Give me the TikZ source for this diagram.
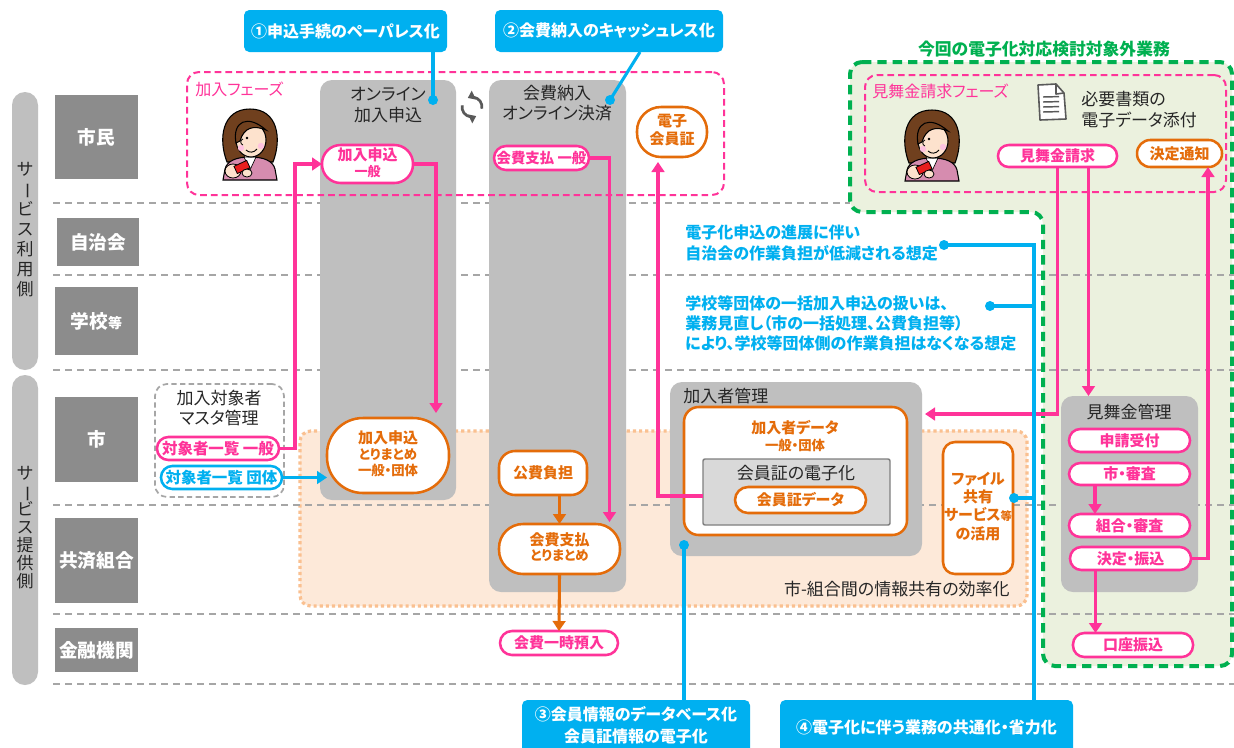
\documentclass[tikz,border=0pt]{standalone}
\usepackage{fontspec}
\setmainfont{Noto Sans CJK JP}[RawFeature=+palt]
\usepackage{graphicx}
\usetikzlibrary{arrows.meta,calc}

\definecolor{pinkc}{RGB}{255,51,153}
\definecolor{orangec}{RGB}{228,108,10}
\definecolor{bluec}{RGB}{0,176,240}
\definecolor{greenc}{RGB}{0,176,80}
\definecolor{greenbg}{RGB}{235,241,222}
\definecolor{peachbg}{RGB}{253,233,217}
\definecolor{peachln}{RGB}{250,192,144}
\definecolor{colgray}{RGB}{191,191,191}
\definecolor{labgray}{RGB}{140,140,140}
\definecolor{lngray}{RGB}{166,166,166}
\definecolor{inngray}{RGB}{217,217,217}
\definecolor{innline}{RGB}{127,127,127}
\definecolor{txtgray}{RGB}{38,38,38}
\definecolor{hairc}{RGB}{112,64,30}
\definecolor{skinc}{RGB}{253,226,205}
\definecolor{shirtc}{RGB}{214,140,175}
\definecolor{phonec}{RGB}{232,30,30}
\definecolor{iconc}{RGB}{89,89,89}

\newcommand\setfs[2]{\fontsize{#1}{#2}\selectfont}
\newcommand\tatebou{\rotatebox[origin=c]{-90}{ー}}
% one line of text, lowered so that the glyphs sit on the node centre
\newcommand\lift[1]{\raisebox{-0.19em}{#1}}
% centred and left-aligned stacks of lines
\newcommand\cstack[1]{\raisebox{-0.12em}{\begin{tabular}{@{}c@{}}#1\end{tabular}}}
\newcommand\lstack[1]{\raisebox{-0.12em}{\begin{tabular}{@{}l@{}}#1\end{tabular}}}

\tikzset{
  % a node spanning the pixel box (x1,y1)-(x2,y2)
  spanbox/.style n args={4}{at={({(#1+#3)/2},{(#2+#4)/2})},
    minimum width={(#3-#1)*0.75pt}, minimum height={(#4-#2)*0.75pt}},
  bx/.style={inner sep=0pt, outer sep=0pt},
  lanebox/.style={bx, fill=labgray, text=white, font=\setfs{14pt}{17pt}\bfseries},
  sidebar/.style={bx, fill=colgray, rounded corners=9.75pt, text=txtgray},
  column/.style={bx, fill=colgray, rounded corners=9pt},
  phase/.style={bx, draw=pinkc, line width=1.5pt, dash pattern=on 5pt off 3pt, rounded corners=9pt},
  pinkpill/.style={bx, draw=pinkc, line width=1.9pt, fill=white, text=pinkc,
    font=\setfs{11.25pt}{12.5pt}\bfseries, rounded corners=#1},
  pinkpill/.default=8.5pt,
  orangepill/.style={bx, draw=orangec, line width=1.9pt, fill=white, text=orangec,
    font=\setfs{11.25pt}{12.5pt}\bfseries, rounded corners=#1},
  orangepill/.default=8.5pt,
  bluepill/.style={bx, draw=bluec, line width=1.9pt, fill=white, text=bluec,
    font=\setfs{11.25pt}{12.5pt}\bfseries, rounded corners=#1},
  bluepill/.default=8.5pt,
  callout/.style={bx, fill=bluec, rounded corners=4pt, text=white,
    font=\setfs{12pt}{16.5pt}\bfseries},
  txt/.style={inner sep=0pt, text=txtgray, font=\setfs{12.75pt}{15pt}},
  bluenote/.style={inner sep=0pt, text=bluec, font=\setfs{12pt}{15pt}\bfseries},
  laneline/.style={draw=lngray, line width=1.1pt, dash pattern=on 5.5pt off 3.5pt},
  tipshape/.style={-{Triangle[length=7.5pt,width=9.5pt]}},
  pinkarrow/.style={draw=pinkc, line width=2.3pt, tipshape},
  orangearrow/.style={draw=orangec, line width=2.3pt, tipshape},
  bluearrow/.style={draw=bluec, line width=2.3pt, tipshape},
  blueline/.style={draw=bluec, line width=2.3pt},
  woman/.pic={
    % long hair behind the head
    \filldraw[fill=hairc, draw=black, line width=0.8pt]
      (-23,17) .. controls (-32,-6) and (-28,-36) .. (0,-36)
      .. controls (28,-36) and (32,-6) .. (23,17) -- cycle;
    % top
    \filldraw[fill=shirtc, draw=black, line width=0.8pt]
      (-27,35) -- (-25,24) .. controls (-23,16) and (-14,12) .. (0,12)
      .. controls (14,12) and (23,16) .. (25,24) -- (27,35) -- cycle;
    \filldraw[fill=white, draw=black, line width=0.5pt] (-6,12) -- (0,25) -- (6,12) -- cycle;
    \fill[skinc] (-5,4) rectangle (5,12);
    % face
    \filldraw[fill=skinc, draw=black, line width=0.8pt] (1,-5) ellipse [x radius=15, y radius=17];
    % fringe
    \filldraw[fill=hairc, draw=black, line width=0.8pt]
      (-14,-2) .. controls (-18,-24) and (-2,-31) .. (16,-15)
      .. controls (4,-20) and (-6,-18) .. (-10,-4) -- cycle;
    % cheeks, eye, nose and smile
    \fill[pinkc!30] (-9,3) circle[radius=3.2];
    \fill[pinkc!30] (11,1) circle[radius=3.2];
    \fill (-3,-7) circle[radius=1.3];
    \draw[line width=0.6pt] (-7,-6) .. controls (-10,-5) and (-10,-1) .. (-7,0);
    \draw[line width=0.7pt] (-4,5) .. controls (-1,8) and (4,8) .. (7,4);
    % hands holding a phone
    \filldraw[fill=skinc, draw=black, line width=0.6pt] (-17,26) ellipse[x radius=8, y radius=7];
    \filldraw[fill=phonec, draw=black, line width=0.6pt, rotate around={25:(-8,22)}] (-15,18) rectangle (-1,26);
    \filldraw[fill=skinc, draw=black, line width=0.6pt] (-3,28) ellipse[x radius=5, y radius=4];
  },
  syncicon/.pic={
    \draw[iconc, line width=2pt, -{Triangle[length=5pt,width=7pt]}]
      (10:10) arc[start angle=10, end angle=-115, radius=10];
    \draw[iconc, line width=2pt, -{Triangle[length=5pt,width=7pt]}]
      (190:10) arc[start angle=190, end angle=65, radius=10];
  },
}

\begin{document}
\begin{tikzpicture}[x=0.75pt,y=-0.75pt]
\useasboundingbox (0,0) rectangle (1234,747);
\clip (0,0) rectangle (1234,747);
\fill[white] (0,0) rectangle (1234,747);

% area outside the scope of this study (background)
\fill[greenbg, rounded corners=9pt] (850,62) -- (1232,62) -- (1232,666) -- (1043,666)
  -- (1043,212) -- (850,212) -- cycle;

% shared-information zone between city and mutual association
\node[bx, fill=peachbg, draw=peachln, line width=2.4pt, dash pattern=on 2.4pt off 2.2pt,
  rounded corners=8pt, spanbox={300}{431}{1027}{606}] (sharezone) {};

% lane separators
\draw[laneline] (53,203) -- (850,203);
\foreach \ly in {275,370,505,614,684} \draw[laneline] (53,\ly) -- (1234,\ly);

% side bars
\node[sidebar, font=\setfs{12.75pt}{15pt}, spanbox={12}{92}{38}{370}] (userside)
  {\raisebox{-2pt}{\begin{tabular}{@{}c@{}}\smash{サ}\\\smash{\tatebou}\\\smash{ビ}\\\smash{ス}\\\smash{利}\\\smash{用}\\\smash{側}\end{tabular}}};
\node[sidebar, font=\setfs{12.75pt}{13.5pt}, spanbox={12}{375}{38}{685}] (providerside)
  {\raisebox{-2pt}{\begin{tabular}{@{}c@{}}\smash{サ}\\\smash{\tatebou}\\\smash{ビ}\\\smash{ス}\\\smash{提}\\\smash{供}\\\smash{側}\end{tabular}}};

% lane headers
\node[lanebox, spanbox={55}{95}{138}{179}] (lcitizen) {\lift{市民}};
\node[lanebox, spanbox={57}{218}{139}{266}] (lassoc) {\lift{自治会}};
\node[lanebox, spanbox={55}{287}{138}{355}] (lschool) {\lift{学校{\setfs{10.5pt}{12pt}等}}};
\node[lanebox, spanbox={55}{397}{138}{482}] (lcity) {\lift{市}};
\node[lanebox, spanbox={55}{518}{138}{603}] (lmutual) {\lift{共済組合}};
\node[lanebox, spanbox={55}{628}{138}{672}] (lbank) {\lift{金融機関}};

% process columns
\node[column, spanbox={320}{80}{456}{500}] (colapply) {};
\node[column, spanbox={489}{80}{626}{592}] (colpay) {};
\node[txt] (colapplyt) at (388,107) {\cstack{オンライン\\加入申込}};
\node[txt] (colpayt) at (557,105) {\cstack{会費納入\\オンライン決済}};

% master data of eligible members
\node[bx, draw=lngray, fill=white, line width=1.3pt, dash pattern=on 4pt off 2.5pt,
  rounded corners=9pt, spanbox={155}{384}{284}{497}] (master) {};
\node[txt] (mastert) at (219,410) {\cstack{加入対象者\\マスタ管理}};

% member management
\node[column, spanbox={670}{382}{922}{556}] (members) {};
\node[txt, anchor=west] (memberst) at (683,396) {\lift{加入者管理}};
\node[bx, draw=orangec, fill=white, line width=1.9pt, rounded corners=11pt,
  spanbox={684}{407}{907}{535}] (memberdata) {};
\node[txt, text=orangec, font=\setfs{11.25pt}{13pt}\bfseries] (memberdatat) at (795,438)
  {\cstack{加入者データ\\{\setfs{10pt}{12pt}一般・団体}}};
\node[bx, fill=inngray, draw=innline, line width=1.1pt, rounded corners=1.5pt,
  spanbox={703}{459}{890}{525}] (cardbox) {};
\node[txt] (cardboxt) at (796,473) {\lift{会員証の電子化}};
\node[orangepill=9.75pt, spanbox={735}{487}{866}{513}] (carddata) {\lift{会員証データ}};

% file sharing service
\node[orangepill=9pt, font=\setfs{11.25pt}{13.5pt}\bfseries, spanbox={943}{442}{1013}{574}] (fileshare)
  {\cstack{ファイル\\共有\\サービス{\setfs{8.5pt}{10pt}等}\\の活用}};
\node[txt, anchor=east] (sharet) at (1010,589) {\lift{市-組合間の情報共有の効率化}};

% relief payment management
\node[column, spanbox={1061}{396}{1198}{592}] (relief) {};
\node[txt] (relieft) at (1129,412) {\lift{見舞金管理}};

% phase frames and out-of-scope frame
\node[phase, spanbox={187}{72}{724}{195}] (joinphase) {};
\node[anchor=west, inner sep=0pt, text=pinkc, font=\setfs{12pt}{14pt}] (joinphaset) at (195,89) {\lift{加入フェーズ}};
\node[phase, spanbox={865}{75}{1226}{192}] (claimphase) {};
\node[anchor=west, inner sep=0pt, text=pinkc, font=\setfs{12pt}{14pt}] (claimphaset) at (872,91) {\lift{見舞金請求フェーズ}};
\draw[greenc, line width=3pt, dash pattern=on 7pt off 4.5pt, rounded corners=9pt]
  (850,62) -- (1232,62) -- (1232,666) -- (1043,666) -- (1043,212) -- (850,212) -- cycle;
\node[inner sep=0pt, text=greenc, font=\setfs{12.6pt}{14pt}\bfseries] (outscope) at (1044,49)
  {\lift{今回の電子化対応検討対象外業務}};
\node[txt, anchor=west] (attach) at (1081,112) {\lstack{必要書類の\\電子データ添付}};

% pills
\node[pinkpill=14pt, font=\setfs{11.25pt}{12pt}\bfseries, spanbox={322}{145}{413}{183}] (applygen)
  {\cstack{加入申込\\{\setfs{9.75pt}{11pt}一般}}};
\node[pinkpill=9pt, font=\setfs{10.8pt}{12pt}\bfseries, spanbox={494}{146}{589}{170}] (paygen) {\lift{会費支払 一般}};
\node[orangepill=18pt, font=\setfs{11.25pt}{12.5pt}\bfseries, spanbox={637}{107}{707}{157}] (ecard)
  {\cstack{電子\\会員証}};
\node[pinkpill, font=\setfs{11.6pt}{12.5pt}\bfseries, spanbox={157}{437}{279}{460}] (listgen) {\lift{対象者一覧 一般}};
\node[bluepill, font=\setfs{11.6pt}{12.5pt}\bfseries, spanbox={161}{466}{282}{489}] (listgrp) {\lift{対象者一覧 団体}};
\node[orangepill=27pt, font=\setfs{11.25pt}{11.5pt}\bfseries, spanbox={327}{418}{449}{493}] (applysum)
  {\cstack{加入申込\\{\setfs{10pt}{11.5pt}とりまとめ}\\{\setfs{10pt}{11.5pt}一般・団体}}};
\node[orangepill=12pt, spanbox={499}{451}{587}{495}] (publicfee) {\lift{公費負担}};
\node[orangepill=18pt, font=\setfs{11.25pt}{11.5pt}\bfseries, spanbox={499}{524}{620}{574}] (paysum)
  {\cstack{会費支払\\{\setfs{10pt}{11.5pt}とりまとめ}}};
\node[pinkpill=9pt, spanbox={500}{631}{618}{655}] (deposit) {\lift{会費一時預入}};
\node[pinkpill=8pt, spanbox={998}{145}{1117}{167}] (claim) {\lift{見舞金請求}};
\node[orangepill=10pt, spanbox={1137}{140}{1222}{167}] (notice) {\lift{決定通知}};
\node[pinkpill, spanbox={1069}{429}{1190}{452}] (accept) {\lift{申請受付}};
\node[pinkpill, spanbox={1069}{463}{1190}{485}] (citycheck) {\lift{市・審査}};
\node[pinkpill, spanbox={1069}{514}{1190}{537}] (mutualcheck) {\lift{組合・審査}};
\node[pinkpill, spanbox={1070}{547}{1191}{570}] (decide) {\lift{決定・振込}};
\node[pinkpill, spanbox={1073}{633}{1193}{657}] (transfer) {\lift{口座振込}};

% flows
\draw[pinkarrow] (listgen.east) -- ++(16,0) |- (applygen.west);
\draw[pinkarrow] (applygen.east) -| ($(applysum.north)+(48,-5)$);
\draw[pinkarrow] (paygen.east) -| ($(paysum.north)+(50,-2)$);
\draw[pinkarrow] ($(cardbox.west)+(0,4)$) -| ($(ecard.south)+(-14,5)$);
\draw[pinkarrow] (claim.south) |- ($(members.east)+(3,-55)$);
\coordinate (claimR) at ($(claim.south)+(31,0)$);
\draw[pinkarrow] (claimR) -- (claimR |- relief.north);
\draw[pinkarrow] (decide.east) -| ($(notice.south)+(28.5,0)$);
\coordinate (citydown) at ($(citycheck.south)+(-34.5,0)$);
\draw[pinkarrow] (citydown) -- (citydown |- mutualcheck.north);
\coordinate (decidedown) at ($(decide.south)+(-35,0)$);
\draw[pinkarrow] (decidedown) -- (decidedown |- transfer.north);
\draw[orangearrow] (publicfee.south -| paysum.north) -- (paysum.north);
\draw[orangearrow] (paysum.south) -- (deposit.north);
\draw[bluearrow] (listgrp.east) -- (listgrp.east -| applysum.west);

% notes on the right
\node[bluenote, anchor=west] (note1) at (685,245)
  {\lstack{電子化申込の進展に伴い\\自治会の作業負担が低減される想定}};
\node[bluenote, anchor=west] (note2) at (685,325)
  {\lstack{学校等団体の一括加入申込の扱いは、\\業務見直し（市の一括処理、公費負担等）\\により、学校等団体側の作業負担はなくなる想定}};

% goals and their pointers
\node[callout, spanbox={244}{10}{447}{52}] (goal1) {\lift{①申込手続のペーパレス化}};
\node[callout, spanbox={495}{10}{723}{52}] (goal2) {\lift{②会費納入のキャッシュレス化}};
\node[callout, spanbox={522}{700}{750}{754}] (goal3) {\cstack{③会員情報のデータベース化\\会員証情報の電子化}};
\node[callout, spanbox={780}{700}{1073}{754}] (goal4) {\lift{④電子化に伴う業務の共通化・省力化}};

\coordinate (g1dot) at (433,100);
\draw[blueline] (goal1.south -| g1dot) -- (g1dot);
\coordinate (g2dot) at (610,100);
\draw[blueline] ($(goal2.south)+(31,0)$) -- (g2dot);
\coordinate (g3dot) at (684,545);
\draw[blueline] (goal3.north -| g3dot) -- (g3dot);
\coordinate (trunk) at (1034,245);
\coordinate (g4a) at (944,245);
\coordinate (g4b) at (990,306);
\coordinate (g4c) at ($(fileshare.east)+(1,-10)$);
\draw[blueline] (goal4.north -| trunk) -- (trunk) -- (g4a);
\draw[blueline] (g4b -| trunk) -- (g4b);
\draw[blueline] (g4c -| trunk) -- (g4c);
\foreach \d in {g1dot,g2dot,g3dot,g4a,g4b,g4c} \fill[bluec] (\d) circle[radius=5];

% icons
\pic (joinwoman) at (250,145) {woman};
\pic (claimwoman) at (932,146) {woman};
\pic (sync) at (472,107) {syncicon};
\filldraw[fill=white, draw=iconc, line width=1.2pt, line join=round]
  (1038,85) -- (1056,84) -- (1064,93) -- (1066,119) -- (1040,120) -- cycle;
\draw[iconc, line width=1.2pt, line join=round] (1056,84) -- (1056,94) -- (1064,93);
\foreach \yy in {97,102,107,112} \draw[iconc, line width=1.1pt] (1043,\yy) -- (1059,\yy-0.4);

\end{tikzpicture}
\end{document}
